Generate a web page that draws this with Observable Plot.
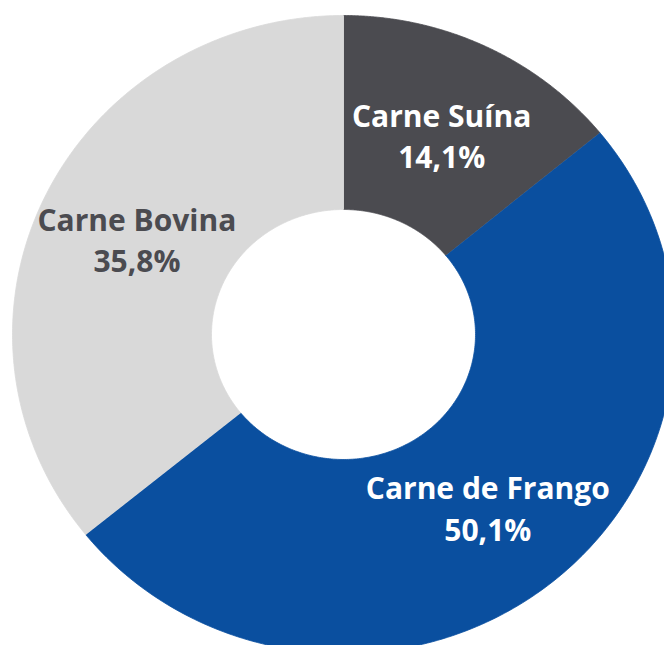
<!DOCTYPE html>
<html>
<head>
<meta charset="utf-8">
<script src="https://cdn.jsdelivr.net/npm/d3@7"></script>
<script src="https://cdn.jsdelivr.net/npm/@observablehq/plot@0.6"></script>
<style>
  html, body { margin: 0; padding: 0; background: #ffffff; }
  #chart svg { display: block; }
</style>
</head>
<body>
<div id="chart"></div>
<script>
// Data
const categories = ["Carne Suína", "Carne de Frango", "Carne Bovina"];
const values = [14.1, 50.1, 35.8];
const valueLabels = ["14,1%", "50,1%", "35,8%"];
const sliceColors = ["#4b4b50", "#0a4f9f", "#d9d9d9"];
const labelColors = ["#ffffff", "#ffffff", "#4b4b50"];

// Geometry (pixels); the reference donut is slightly squashed vertically
const W = 664, H = 645;
const cx = 343, cy = 334;
const outerRx = 331, outerRy = 319;
const innerRx = 132, innerRy = 125;
const labelRx = 229, labelRy = 222;

const rows = categories.map((c, i) => ({cat: c, value: values[i], label: valueLabels[i], color: sliceColors[i], tcolor: labelColors[i]}));
const arcs = d3.pie().sort(null).value(d => d.value)(rows);

// Slice outlines built from the pie angles
const pts = [];
arcs.forEach(a => {
  const n = 200;
  for (let k = 0; k <= n; k++) {
    const t = a.startAngle + (a.endAngle - a.startAngle) * k / n;
    pts.push({cat: a.data.cat, color: a.data.color, x: outerRx * Math.sin(t), y: -outerRy * Math.cos(t)});
  }
  for (let k = n; k >= 0; k--) {
    const t = a.startAngle + (a.endAngle - a.startAngle) * k / n;
    pts.push({cat: a.data.cat, color: a.data.color, x: innerRx * Math.sin(t), y: -innerRy * Math.cos(t)});
  }
});

const labelData = arcs.map(a => {
  const m = (a.startAngle + a.endAngle) / 2;
  return {x: labelRx * Math.sin(m), y: -labelRy * Math.cos(m), text: a.data.cat + "\n" + a.data.label, color: a.data.tcolor};
});

const chart = Plot.plot({
  width: W,
  height: H,
  margin: 0,
  x: {domain: [-cx, W - cx], range: [0, W], axis: null},
  y: {domain: [-cy, H - cy], range: [0, H], axis: null},
  color: {type: "identity"},
  style: {background: "#ffffff"},
  marks: [
    Plot.line(pts, {x: "x", y: "y", z: "cat", fill: "color", stroke: "color", strokeWidth: 0.8}),
    Plot.text(labelData, {
      x: "x", y: "y", text: "text", fill: "color",
      fontSize: 30, fontWeight: "bold", lineHeight: 1.37,
      fontFamily: "'Open Sans', 'DejaVu Sans', sans-serif"
    })
  ]
});
document.getElementById("chart").appendChild(chart);
</script>
</body>
</html>
